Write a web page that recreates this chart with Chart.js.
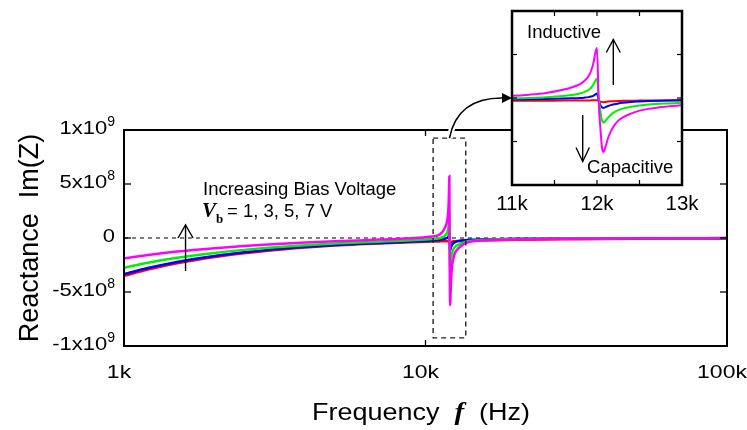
<!DOCTYPE html>
<html>
<head>
<meta charset="utf-8">
<script src="https://cdn.jsdelivr.net/npm/chart.js@4/dist/chart.umd.min.js"></script>
<style>
  html, body { margin: 0; padding: 0; background: #fff; }
  #wrap { position: relative; width: 747px; height: 430px; overflow: hidden; }
  #main { position: absolute; left: 0; top: 0; }
  #inset { position: absolute; left: 490px; top: 0; }
</style>
</head>
<body>
<div id="wrap">
  <canvas id="main" width="747" height="430"></canvas>
  <canvas id="inset" width="220" height="225"></canvas>
</div>
<script>
// Measurement frequencies (Hz)
const freqHz = [1000, 1200, 1500, 2000, 2500, 3000, 4000, 5000, 6000, 7000,
  8000, 9000, 10000, 10500, 11000, 11200, 11400, 11600, 11700, 11800,
  11850, 11900, 11930, 11960, 11980, 12000, 12020, 12040, 12060, 12075,
  12100, 12130, 12160, 12200, 12250, 12300, 12400, 12500, 12600, 12800,
  13000, 13500, 14000, 15000, 17000, 20000, 25000, 30000, 40000, 50000,
  70000, 100000];

// Reactance Im(Z) in units of 10^8 ohm, one array per bias voltage
const reactance1V = [-3.50, -2.92, -2.34, -1.76, -1.41, -1.17, -0.88, -0.70, -0.59, -0.50,
  -0.44, -0.39, -0.35, -0.33, -0.32, -0.31, -0.31, -0.30, -0.30, -0.29,
  -0.29, -0.28, -0.27, -0.26, -0.25, -0.25, -0.33, -0.42, -0.47, -0.48,
  -0.45, -0.41, -0.38, -0.36, -0.34, -0.33, -0.31, -0.30, -0.29, -0.28,
  -0.27, -0.26, -0.25, -0.23, -0.20, -0.17, -0.14, -0.12, -0.09, -0.07,
  -0.05, -0.035];
const reactance3V = [-3.33, -2.78, -2.22, -1.67, -1.33, -1.10, -0.82, -0.65, -0.54, -0.46,
  -0.39, -0.33, -0.27, -0.23, -0.18, -0.15, -0.12, -0.07, -0.04, 0.00,
  0.04, 0.10, 0.17, 0.28, 0.42, 0.52, -0.25, -0.80, -1.08, -1.14,
  -1.05, -0.92, -0.82, -0.72, -0.62, -0.55, -0.46, -0.40, -0.35, -0.29,
  -0.25, -0.20, -0.17, -0.14, -0.11, -0.08, -0.06, -0.05, -0.035, -0.03,
  -0.02, -0.015];
const reactance5V = [-2.75, -2.29, -1.83, -1.38, -1.10, -0.91, -0.67, -0.52, -0.42, -0.34,
  -0.27, -0.21, -0.14, -0.10, -0.05, 0.00, 0.08, 0.22, 0.34, 0.52,
  0.68, 0.92, 1.18, 1.58, 1.98, 2.24, 0.10, -1.50, -2.60, -2.84,
  -2.62, -2.25, -1.95, -1.65, -1.40, -1.22, -1.00, -0.86, -0.76, -0.64,
  -0.56, -0.38, -0.28, -0.20, -0.14, -0.10, -0.07, -0.05, -0.035, -0.03,
  -0.02, -0.01];
const reactance7V = [-1.88, -1.57, -1.25, -0.94, -0.74, -0.60, -0.42, -0.30, -0.22, -0.15,
  -0.09, -0.03, 0.06, 0.13, 0.25, 0.38, 0.58, 0.95, 1.20, 1.60,
  1.95, 2.50, 3.10, 4.10, 5.20, 5.75, -0.50, -3.50, -5.80, -6.20,
  -5.60, -4.60, -3.90, -3.20, -2.60, -2.25, -1.80, -1.45, -1.25, -1.00,
  -0.83, -0.50, -0.36, -0.25, -0.18, -0.12, -0.08, -0.06, -0.04, -0.03,
  -0.02, -0.01];

// Axis ticks
const xTickValues = [1000, 10000, 100000];
const xTickLabels = ['1k', '10k', '100k'];
const yTickValues = [10, 5, 0, -5, -10];
const yTickLabels = [['1x10', '9'], ['5x10', '8'], ['0', ''], ['-5x10', '8'], ['-1x10', '9']];
const insetXTickValues = [11000, 12000, 13000];
const insetXTickLabels = ['11k', '12k', '13k'];
const insetMinorXTicks = [11500, 12000, 12500];
const insetYTickValues = [5, 0, -5];

const SANS = '"Liberation Sans", Arial, Helvetica, sans-serif';
const SERIF = '"Liberation Serif", "Times New Roman", serif';

// Series drawn last-to-first: 7 V ends up on top
const series = [
  { label: '7 V', values: reactance7V, color: '#ff00ff' },
  { label: '5 V', values: reactance5V, color: '#00f000' },
  { label: '3 V', values: reactance3V, color: '#0000ff' },
  { label: '1 V', values: reactance1V, color: '#ff0000' }
];

function makeDatasets(width) {
  return series.map(s => ({
    label: s.label,
    data: freqHz.map((f, i) => ({ x: f, y: s.values[i] })),
    borderColor: s.color,
    borderWidth: width,
    pointRadius: 0,
    fill: false,
    cubicInterpolationMode: 'monotone'
  }));
}

function text(ctx, s, x, y, font, align, sx, sy, rot) {
  ctx.save();
  ctx.translate(x, y);
  if (rot) ctx.rotate(rot);
  ctx.scale(sx || 1, sy || 1);
  ctx.font = font;
  ctx.textAlign = align || 'left';
  ctx.textBaseline = 'alphabetic';
  ctx.fillStyle = '#000';
  ctx.fillText(s, 0, 0);
  ctx.restore();
}

function line(ctx, x1, y1, x2, y2, w, color) {
  ctx.beginPath();
  ctx.moveTo(x1, y1);
  ctx.lineTo(x2, y2);
  ctx.lineWidth = w;
  ctx.strokeStyle = color || '#000';
  ctx.stroke();
}

function openArrow(ctx, x, yTail, yTip, headW, headH) {
  const dir = yTip < yTail ? 1 : -1;
  line(ctx, x, yTail, x, yTip, 1.4);
  ctx.beginPath();
  ctx.moveTo(x - headW, yTip + dir * headH);
  ctx.lineTo(x, yTip);
  ctx.lineTo(x + headW, yTip + dir * headH);
  ctx.lineWidth = 1.4;
  ctx.strokeStyle = '#000';
  ctx.stroke();
}

// Region of the resonance that the inset enlarges (data coordinates)
const zoomRegion = { fMin: 10600, fMax: 13600, yMin: -9.25, yMax: 9.25 };

const mainDecor = {
  id: 'mainDecor',
  beforeDatasetsDraw(chart) {
    const { ctx, chartArea: a, scales: { y } } = chart;
    const y0 = y.getPixelForValue(0);
    ctx.save();
    ctx.setLineDash([4, 4]);
    line(ctx, a.left, y0, a.right, y0, 1.5, '#555');
    ctx.restore();
  },
  afterDatasetsDraw(chart) {
    const { ctx, chartArea: a, scales: { x, y } } = chart;
    ctx.save();
    // frame
    ctx.lineWidth = 2;
    ctx.strokeStyle = '#000';
    ctx.strokeRect(a.left, a.top, a.right - a.left, a.bottom - a.top);
    // inward tick marks
    yTickValues.forEach(v => {
      const py = y.getPixelForValue(v);
      line(ctx, a.left, py, a.left + 7, py, 1.3);
      line(ctx, a.right - 7, py, a.right, py, 1.3);
    });
    xTickValues.forEach(v => {
      const px = x.getPixelForValue(v);
      line(ctx, px, a.bottom, px, a.bottom - 6, 1.3);
      line(ctx, px, a.top, px, a.top + 6, 1.3);
    });
    // y tick labels with superscript exponent
    yTickLabels.forEach((lab, i) => {
      const py = y.getPixelForValue(yTickValues[i]);
      const right = a.left - 9;
      ctx.font = '14px ' + SANS;
      const supW = lab[1] ? ctx.measureText(lab[1]).width : 0;
      text(ctx, lab[0], right - supW, py + 3.5, '22px ' + SANS, 'right', 1, 0.86);
      if (lab[1]) text(ctx, lab[1], right - supW, py - 3.8, '14px ' + SANS, 'left');
    });
    // x tick labels
    xTickLabels.forEach((lab, i) => {
      const px = x.getPixelForValue(xTickValues[i]);
      text(ctx, lab, px - 5, 378, '23px ' + SANS, 'center', 1, 0.8);
    });
    // axis titles
    text(ctx, 'Reactance  Im(Z)', 38, (a.top + a.bottom) / 2, '27px ' + SANS, 'center', 1, 1, -Math.PI / 2);
    {
      const parts = [
        ['Frequency  ', '27px ' + SANS],
        ['f', 'italic bold 29px ' + SERIF],
        ['  (Hz)', '27px ' + SANS]
      ];
      let total = 0;
      parts.forEach(p => { ctx.font = p[1]; p.push(ctx.measureText(p[0]).width); total += p[2]; });
      let cx = 421 - total / 2;
      parts.forEach(p => { text(ctx, p[0], cx, 420, p[1], 'left', 1, 0.88); cx += p[2]; });
    }
    // dashed box around the resonance
    const rx1 = x.getPixelForValue(zoomRegion.fMin), rx2 = x.getPixelForValue(zoomRegion.fMax);
    const ry1 = y.getPixelForValue(zoomRegion.yMax), ry2 = y.getPixelForValue(zoomRegion.yMin);
    ctx.setLineDash([5, 4]);
    ctx.lineWidth = 1.4;
    ctx.strokeStyle = '#222';
    ctx.strokeRect(rx1, ry1, rx2 - rx1, ry2 - ry1);
    ctx.setLineDash([]);
    // curved pointer to the inset
    const sx = (rx1 + rx2) / 2, sy = ry1;
    const ex = 504, ey = 98;
    ctx.beginPath();
    ctx.moveTo(sx, sy);
    ctx.quadraticCurveTo(sx + 8, ey - 1, ex, ey);
    ctx.lineWidth = 6;
    ctx.strokeStyle = '#fff';
    ctx.stroke();
    ctx.beginPath();
    ctx.moveTo(sx, sy);
    ctx.quadraticCurveTo(sx + 8, ey - 1, ex, ey);
    ctx.lineWidth = 1.6;
    ctx.strokeStyle = '#000';
    ctx.stroke();
    ctx.beginPath();
    ctx.moveTo(512, ey);
    ctx.lineTo(502, ey - 5);
    ctx.lineTo(502, ey + 5);
    ctx.closePath();
    ctx.fillStyle = '#000';
    ctx.fill();
    // bias voltage annotation
    text(ctx, 'Increasing Bias Voltage', 203, 195, '18.5px ' + SANS, 'left');
    text(ctx, 'V', 202, 217, 'italic bold 21px ' + SERIF, 'left');
    text(ctx, 'b', 216, 223, 'bold 13px ' + SERIF, 'left');
    text(ctx, '= 1, 3, 5, 7 V', 227, 217, '18.5px ' + SANS, 'left');
    const ax = x.getPixelForValue(1600);
    openArrow(ctx, ax, 271, 225, 7.5, 13);
    ctx.restore();
  }
};

const insetDecor = {
  id: 'insetDecor',
  beforeDatasetsDraw(chart) {
    const { ctx, chartArea: a } = chart;
    ctx.save();
    ctx.fillStyle = '#fff';
    ctx.fillRect(a.left - 1, a.top - 1, a.right - a.left + 2, a.bottom - a.top + 2);
    ctx.restore();
  },
  afterDatasetsDraw(chart) {
    const { ctx, chartArea: a, scales: { x, y } } = chart;
    ctx.save();
    ctx.lineWidth = 2.5;
    ctx.strokeStyle = '#000';
    ctx.strokeRect(a.left, a.top, a.right - a.left, a.bottom - a.top);
    insetMinorXTicks.forEach(v => {
      const px = x.getPixelForValue(v);
      line(ctx, px, a.top, px, a.top + 5, 1.2);
      line(ctx, px, a.bottom, px, a.bottom - 5, 1.2);
    });
    insetYTickValues.forEach(v => {
      const py = y.getPixelForValue(v);
      line(ctx, a.left, py, a.left + 5, py, 1.2);
      line(ctx, a.right - 5, py, a.right, py, 1.2);
    });
    insetXTickLabels.forEach((lab, i) => {
      const px = x.getPixelForValue(insetXTickValues[i]);
      text(ctx, lab, px, 210, '20.5px ' + SANS, 'center');
    });
    text(ctx, 'Inductive', 37, 38, '18.5px ' + SANS, 'left');
    text(ctx, 'Capacitive', 97, 172.5, '18.5px ' + SANS, 'left');
    openArrow(ctx, 123.3, 85, 39.5, 7, 13);
    openArrow(ctx, 92.7, 115, 161.5, 6.7, 14);
    ctx.restore();
  }
};

const common = {
  responsive: false,
  animation: false,
  devicePixelRatio: 1,
  events: [],
  plugins: { legend: { display: false }, tooltip: { enabled: false } }
};

new Chart(document.getElementById('main'), {
  type: 'line',
  data: { datasets: makeDatasets(2.5) },
  options: Object.assign({}, common, {
    layout: { padding: { left: 124, top: 130, right: 20, bottom: 84 } },
    scales: {
      x: { type: 'logarithmic', min: 1000, max: 100000, display: false },
      y: { type: 'linear', min: -10, max: 10, display: false }
    }
  }),
  plugins: [mainDecor]
});

new Chart(document.getElementById('inset'), {
  type: 'line',
  data: { datasets: makeDatasets(2) },
  options: Object.assign({}, common, {
    layout: { padding: { left: 22, top: 11, right: 28, bottom: 40 } },
    scales: {
      x: { type: 'linear', min: 11000, max: 13000, display: false },
      y: { type: 'linear', min: -10, max: 10, display: false }
    }
  }),
  plugins: [insetDecor]
});
</script>
</body>
</html>
